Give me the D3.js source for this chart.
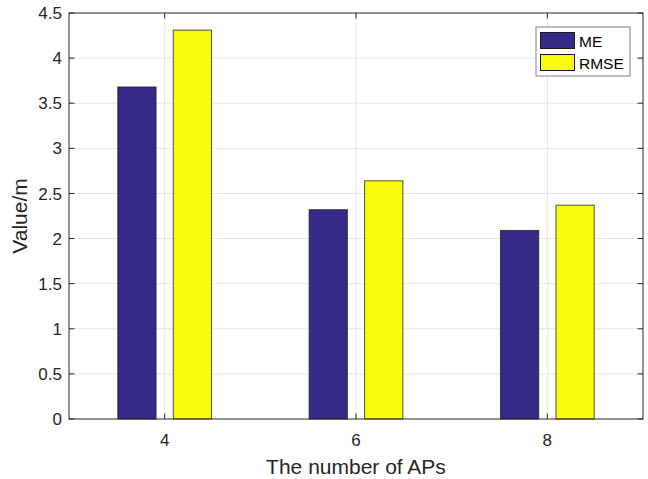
<!DOCTYPE html>
<html>
<head>
<meta charset="utf-8">
<script src="https://cdn.jsdelivr.net/npm/d3@7"></script>
<style>
  html, body { margin: 0; padding: 0; background: #fff; }
  svg { display: block; font-family: "Liberation Sans", Arial, sans-serif; }
</style>
</head>
<body>
<svg id="chart" width="648" height="479"></svg>
<script>
// data
const categories = [4, 6, 8];
const meValues = [3.68, 2.32, 2.09];
const rmseValues = [4.31, 2.64, 2.37];
const seriesNames = ["ME", "RMSE"];
const yTicks = [0, 0.5, 1, 1.5, 2, 2.5, 3, 3.5, 4, 4.5];

const W = 648, H = 479;
const margin = {left: 69, right: 5, top: 13, bottom: 60};
const axisColor = "#262626";
const gridColor = "#e6e6e6";
const colors = ["#352A87", "#F9FB0E"];

const svg = d3.select("#chart");
const x = d3.scaleLinear().domain([3, 9]).range([margin.left, W - margin.right]);
const y = d3.scaleLinear().domain([0, 4.5]).range([H - margin.bottom, margin.top]);

const x0 = x.range()[0], x1 = x.range()[1];
const y0 = y.range()[0], y1 = y.range()[1];
const tickLen = 5.5;

// grid
const grid = svg.append("g");
grid.selectAll("line.gy").data(yTicks.slice(1, -1)).join("line")
  .attr("x1", x0).attr("x2", x1)
  .attr("y1", d => y(d)).attr("y2", d => y(d))
  .attr("stroke", gridColor).attr("stroke-width", 1);
grid.selectAll("line.gx").data(categories).join("line")
  .attr("x1", d => x(d)).attr("x2", d => x(d))
  .attr("y1", y0).attr("y2", y1)
  .attr("stroke", gridColor).attr("stroke-width", 1);

// bars
const offset = 0.29, barW = 0.4;
const series = [meValues, rmseValues];
series.forEach((vals, si) => {
  const off = si === 0 ? -offset : offset;
  svg.append("g").selectAll("rect").data(categories).join("rect")
    .attr("x", d => x(d + off - barW / 2))
    .attr("width", x(barW) - x(0))
    .attr("y", (d, i) => y(vals[i]))
    .attr("height", (d, i) => y(0) - y(vals[i]))
    .attr("fill", colors[si])
    .attr("stroke", "#1a1a1a")
    .attr("stroke-opacity", 0.75)
    .attr("stroke-width", 1);
});

// axes (MATLAB style, inward ticks on all four sides)
const tickG = svg.append("g").attr("stroke", axisColor).attr("stroke-width", 1);
yTicks.forEach(t => {
  tickG.append("line").attr("x1", x0).attr("x2", x0 + tickLen).attr("y1", y(t)).attr("y2", y(t));
  tickG.append("line").attr("x1", x1).attr("x2", x1 - tickLen).attr("y1", y(t)).attr("y2", y(t));
});
categories.forEach(c => {
  tickG.append("line").attr("x1", x(c)).attr("x2", x(c)).attr("y1", y0).attr("y2", y0 - tickLen);
  tickG.append("line").attr("x1", x(c)).attr("x2", x(c)).attr("y1", y1).attr("y2", y1 + tickLen);
});
svg.append("rect")
  .attr("x", x0).attr("y", y1).attr("width", x1 - x0).attr("height", y0 - y1)
  .attr("fill", "none").attr("stroke", axisColor).attr("stroke-width", 1);

svg.append("g").selectAll("text").data(yTicks).join("text")
  .attr("x", x0 - 7).attr("y", d => y(d)).attr("dy", "0.36em")
  .attr("text-anchor", "end").attr("font-size", 17).attr("fill", axisColor)
  .text(d => d);

svg.append("g").selectAll("text").data(categories).join("text")
  .attr("x", d => x(d)).attr("y", 446)
  .attr("text-anchor", "middle").attr("font-size", 17).attr("fill", axisColor)
  .text(d => d);

svg.append("text")
  .attr("x", (x0 + x1) / 2).attr("y", 474)
  .attr("text-anchor", "middle").attr("font-size", 21).attr("fill", axisColor)
  .text("The number of APs");

svg.append("text")
  .attr("transform", `translate(27,${(y0 + y1) / 2}) rotate(-90)`)
  .attr("text-anchor", "middle").attr("font-size", 21).attr("fill", axisColor)
  .text("Value/m");

// legend
const lg = svg.append("g");
lg.append("rect").attr("x", 536).attr("y", 27).attr("width", 94).attr("height", 49)
  .attr("fill", "#fff").attr("stroke", "#7f7f7f").attr("stroke-width", 1);
seriesNames.forEach((name, i) => {
  lg.append("rect").attr("x", 540.5).attr("y", 32.5 + i * 22).attr("width", 34).attr("height", 16)
    .attr("fill", colors[i]).attr("stroke", "#1a1a1a").attr("stroke-width", 1);
  lg.append("text").attr("x", 579).attr("y", 46.5 + i * 22)
    .attr("font-size", 15.5).attr("fill", "#000").text(name);
});
</script>
</body>
</html>
